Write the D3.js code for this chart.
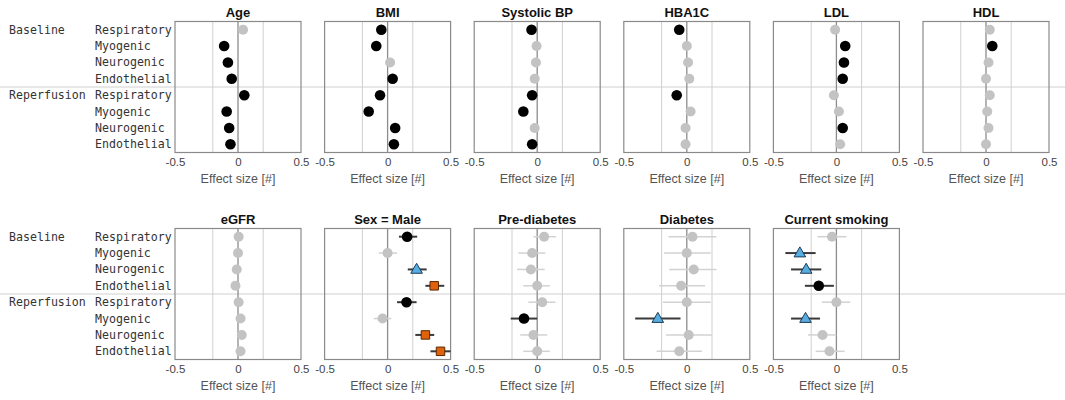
<!DOCTYPE html>
<html>
<head>
<meta charset="utf-8">
<script src="https://cdn.jsdelivr.net/npm/d3@7"></script>
<style>
  html, body { margin: 0; padding: 0; background: #fff; }
  svg { display: block; }
</style>
</head>
<body>
<svg id="chart" width="1065" height="400"></svg>
<script>
// ---------------- DATA ----------------
const groups = ["Baseline", "Reperfusion"];
const components = ["Respiratory", "Myogenic", "Neurogenic", "Endothelial"];
const xTicks = [-0.5, 0, 0.5];
const xTickLabels = ["-0.5", "0", "0.5"];
const gridVals = [-0.2, 0.2];

// marker code: 0 = not significant (grey), 1 = black circle, 2 = blue triangle, 3 = orange square
const ageEst   = [0.04, -0.11, -0.08, -0.05, 0.05, -0.09, -0.07, -0.06];
const ageSig   = [0, 1, 1, 1, 1, 1, 1, 1];
const bmiEst   = [-0.05, -0.09, 0.02, 0.04, -0.06, -0.15, 0.06, 0.05];
const bmiSig   = [1, 1, 0, 1, 1, 1, 1, 1];
const sbpEst   = [-0.045, -0.005, -0.01, -0.02, -0.04, -0.11, -0.02, -0.04];
const sbpSig   = [1, 0, 0, 0, 1, 1, 0, 1];
const hbaEst   = [-0.06, 0.0, 0.01, 0.02, -0.08, 0.03, -0.01, -0.01];
const hbaSig   = [1, 0, 0, 0, 1, 0, 0, 0];
const ldlEst   = [-0.01, 0.07, 0.06, 0.05, -0.02, 0.02, 0.05, 0.03];
const ldlSig   = [0, 1, 1, 1, 0, 0, 1, 0];
const hdlEst   = [0.03, 0.05, 0.02, 0.0, 0.03, 0.01, 0.02, 0.0];
const hdlSig   = [0, 1, 0, 0, 0, 0, 0, 0];
const egfrEst  = [0.005, 0.0, -0.01, -0.02, 0.005, 0.02, 0.03, 0.02];
const egfrSig  = [0, 0, 0, 0, 0, 0, 0, 0];

const sexEst   = [0.155, 0.0, 0.23, 0.37, 0.15, -0.04, 0.30, 0.42];
const sexLo    = [0.09, -0.07, 0.16, 0.30, 0.075, -0.11, 0.22, 0.34];
const sexHi    = [0.235, 0.075, 0.31, 0.45, 0.23, 0.03, 0.37, 0.50];
const sexSig   = [1, 0, 2, 3, 1, 0, 3, 3];

const preEst   = [0.055, -0.04, -0.05, 0.0, 0.04, -0.105, -0.03, 0.0];
const preLo    = [-0.03, -0.15, -0.16, -0.11, -0.07, -0.21, -0.135, -0.11];
const preHi    = [0.15, 0.065, 0.06, 0.10, 0.145, 0.0, 0.08, 0.10];
const preSig   = [0, 0, 0, 0, 0, 1, 0, 0];

const diabEst  = [0.045, 0.0, 0.055, -0.045, 0.0, -0.23, 0.015, -0.06];
const diabLo   = [-0.145, -0.18, -0.14, -0.22, -0.19, -0.41, -0.165, -0.24];
const diabHi   = [0.235, 0.19, 0.235, 0.145, 0.19, -0.05, 0.20, 0.12];
const diabSig  = [0, 0, 0, 0, 0, 2, 0, 0];

const smokeEst = [-0.035, -0.29, -0.24, -0.14, 0.0, -0.245, -0.11, -0.055];
const smokeLo  = [-0.15, -0.405, -0.36, -0.25, -0.115, -0.36, -0.225, -0.165];
const smokeHi  = [0.08, -0.165, -0.12, -0.02, 0.11, -0.13, 0.0, 0.065];
const smokeSig = [0, 2, 2, 1, 0, 2, 0, 0];

const panels = [
  { title: "Age",             est: ageEst,   sig: ageSig,   lo: null,     hi: null },
  { title: "BMI",             est: bmiEst,   sig: bmiSig,   lo: null,     hi: null },
  { title: "Systolic BP",     est: sbpEst,   sig: sbpSig,   lo: null,     hi: null },
  { title: "HBA1C",           est: hbaEst,   sig: hbaSig,   lo: null,     hi: null },
  { title: "LDL",             est: ldlEst,   sig: ldlSig,   lo: null,     hi: null },
  { title: "HDL",             est: hdlEst,   sig: hdlSig,   lo: null,     hi: null },
  { title: "eGFR",            est: egfrEst,  sig: egfrSig,  lo: null,     hi: null },
  { title: "Sex = Male",      est: sexEst,   sig: sexSig,   lo: sexLo,    hi: sexHi },
  { title: "Pre-diabetes",    est: preEst,   sig: preSig,   lo: preLo,    hi: preHi },
  { title: "Diabetes",        est: diabEst,  sig: diabSig,  lo: diabLo,   hi: diabHi },
  { title: "Current smoking", est: smokeEst, sig: smokeSig, lo: smokeLo,  hi: smokeHi }
];

// ---------------- LAYOUT ----------------
const svg = d3.select("#chart");
const W = 1065;
const perRow = 6;
const panelW = 126;
const colScale = d3.scaleLinear().domain([0, 5]).range([175, 923]);
const rowTops = [21.5, 228.5];
const panelH = 131;

const rowKeys = d3.range(8);
const labelFont = "'DejaVu Sans Mono', monospace";
const textFont = "'Liberation Sans', Arial, sans-serif";

const colors = {
  grey: "#c3c3c3",
  greyBar: "#d2d2d2",
  darkBar: "#3a3a3a",
  blue: "#56ade0",
  blueStroke: "#1e3a56",
  orange: "#e0620c",
  orangeStroke: "#5a2800"
};

// row labels and separators for each row of panels
rowTops.forEach(top => {
  const y = d3.scaleBand().domain(rowKeys).range([top, top + panelH]);
  const g = svg.append("g");
  g.append("line")
    .attr("x1", 0).attr("x2", W)
    .attr("y1", top + panelH / 2).attr("y2", top + panelH / 2)
    .attr("stroke", "#d0d0d0").attr("stroke-width", 1);
  rowKeys.forEach(i => {
    const cy = y(i) + y.bandwidth() / 2;
    if (i % 4 === 0) {
      g.append("text")
        .attr("x", 9).attr("y", cy)
        .attr("dominant-baseline", "central")
        .attr("font-family", labelFont).attr("font-size", 11.6)
        .attr("fill", "#333")
        .text(groups[i / 4]);
    }
    g.append("text")
      .attr("x", 95).attr("y", cy)
      .attr("dominant-baseline", "central")
      .attr("font-family", labelFont).attr("font-size", 11.6)
      .attr("fill", "#333")
      .text(components[i % 4]);
  });
});

const triangle = d3.symbol().type(d3.symbolTriangle).size(58);
const square = d3.symbol().type(d3.symbolSquare).size(72);

panels.forEach((p, idx) => {
  const r = Math.floor(idx / perRow);
  const c = idx % perRow;
  const left = colScale(c);
  const top = rowTops[r];
  const x = d3.scaleLinear().domain([-0.5, 0.5]).range([left, left + panelW]);
  const y = d3.scaleBand().domain(rowKeys).range([top, top + panelH]);
  const g = svg.append("g");

  // grid
  g.selectAll(".grid").data(gridVals).enter().append("line")
    .attr("x1", d => x(d)).attr("x2", d => x(d))
    .attr("y1", top).attr("y2", top + panelH)
    .attr("stroke", "#cfcfcf").attr("stroke-width", 1);
  g.append("line")
    .attr("x1", x(0)).attr("x2", x(0))
    .attr("y1", top).attr("y2", top + panelH)
    .attr("stroke", "#8c8c8c").attr("stroke-width", 1.3);

  // border
  g.append("rect")
    .attr("x", left).attr("y", top)
    .attr("width", panelW).attr("height", panelH)
    .attr("fill", "none").attr("stroke", "#8a8a8a").attr("stroke-width", 1.2);

  // title
  g.append("text")
    .attr("x", left + panelW / 2).attr("y", top - 5)
    .attr("text-anchor", "middle")
    .attr("font-family", textFont).attr("font-size", 13).attr("font-weight", "bold")
    .attr("fill", "#111")
    .text(p.title);

  // x axis tick labels via d3 axis
  const axis = d3.axisBottom(x).tickValues(xTicks).tickSize(0).tickPadding(5)
    .tickFormat((d, i) => xTickLabels[i]);
  const ag = g.append("g").attr("transform", `translate(0,${top + panelH})`).call(axis);
  ag.select(".domain").remove();
  ag.selectAll("text")
    .attr("font-family", textFont).attr("font-size", 11.5)
    .attr("fill", "#444");

  g.append("text")
    .attr("x", left + panelW / 2).attr("y", top + panelH + 30.5)
    .attr("text-anchor", "middle")
    .attr("font-family", textFont).attr("font-size", 12.5)
    .attr("fill", "#555")
    .text("Effect size [#]");

  const pts = rowKeys.map(i => ({
    i, est: p.est[i], sig: p.sig[i],
    lo: p.lo ? p.lo[i] : null, hi: p.hi ? p.hi[i] : null
  }));

  // error bars
  g.selectAll(".eb").data(pts.filter(d => d.lo !== null)).enter().append("line")
    .attr("x1", d => x(d.lo)).attr("x2", d => x(d.hi))
    .attr("y1", d => y(d.i) + y.bandwidth() / 2)
    .attr("y2", d => y(d.i) + y.bandwidth() / 2)
    .attr("stroke", d => d.sig === 0 ? colors.greyBar : colors.darkBar)
    .attr("stroke-width", d => d.sig === 0 ? 1.5 : 2);

  // markers
  pts.forEach(d => {
    const cx = x(d.est), cy = y(d.i) + y.bandwidth() / 2;
    if (d.sig === 0) {
      g.append("circle").attr("cx", cx).attr("cy", cy).attr("r", 5)
        .attr("fill", colors.grey);
    } else if (d.sig === 1) {
      g.append("circle").attr("cx", cx).attr("cy", cy).attr("r", 5.3)
        .attr("fill", "#000");
    } else if (d.sig === 2) {
      g.append("path").attr("d", triangle)
        .attr("transform", `translate(${cx},${cy + 0.5})`)
        .attr("fill", colors.blue).attr("stroke", colors.blueStroke).attr("stroke-width", 1);
    } else {
      g.append("path").attr("d", square)
        .attr("transform", `translate(${cx},${cy})`)
        .attr("fill", colors.orange).attr("stroke", colors.orangeStroke).attr("stroke-width", 1);
    }
  });
});
</script>
</body>
</html>
